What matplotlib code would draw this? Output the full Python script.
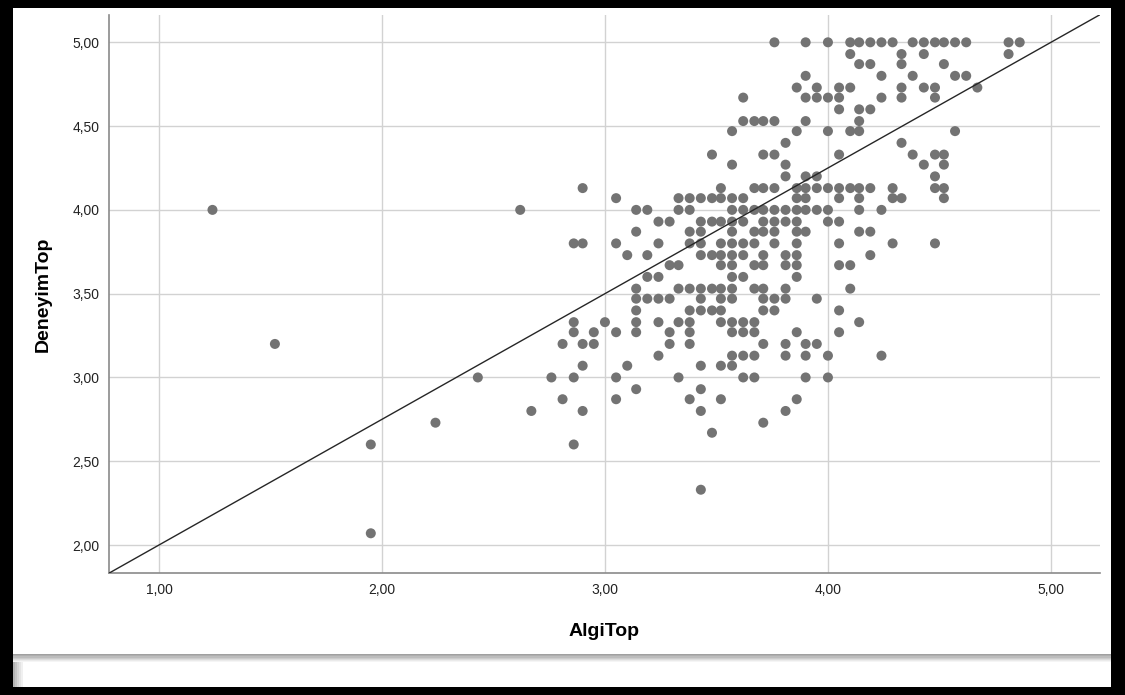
import matplotlib
matplotlib.use("Agg")
import matplotlib.pyplot as plt
from matplotlib.patches import Rectangle
from matplotlib.ticker import FuncFormatter

# --- DATA: DeneyimTop levels and the AlgiTop values at each level ---
deneyim_levels = [5.00, 4.93, 4.87, 4.80, 4.73, 4.67, 4.60, 4.53, 4.47, 4.40,
                  4.33, 4.27, 4.20, 4.13, 4.07, 4.00, 3.93, 3.87, 3.80, 3.73,
                  3.67, 3.60, 3.53, 3.47, 3.40, 3.33, 3.27, 3.20, 3.13, 3.07,
                  3.00, 2.93, 2.87, 2.80, 2.73, 2.67, 2.60, 2.33, 2.07]

algi_by_level = [
    [3.76, 3.90, 4.00, 4.10, 4.14, 4.19, 4.24, 4.29, 4.38, 4.43, 4.48, 4.52, 4.57, 4.62, 4.81, 4.86],
    [4.10, 4.33, 4.43, 4.81],
    [4.14, 4.19, 4.33, 4.52],
    [3.90, 4.24, 4.38, 4.57, 4.62],
    [3.86, 3.95, 4.05, 4.10, 4.33, 4.43, 4.48, 4.67],
    [3.62, 3.90, 3.95, 4.00, 4.05, 4.24, 4.33, 4.48],
    [4.05, 4.14, 4.19],
    [3.62, 3.67, 3.71, 3.76, 3.90, 4.14],
    [3.57, 3.86, 4.00, 4.10, 4.14, 4.57],
    [3.81, 4.33],
    [3.48, 3.71, 3.76, 4.05, 4.38, 4.48, 4.52],
    [3.57, 3.81, 4.43, 4.52],
    [3.81, 3.90, 3.95, 4.48],
    [2.90, 3.52, 3.67, 3.71, 3.76, 3.86, 3.90, 3.95, 4.00, 4.05, 4.10, 4.14, 4.19, 4.29, 4.48, 4.52],
    [3.05, 3.33, 3.38, 3.43, 3.48, 3.52, 3.57, 3.62, 3.86, 3.90, 4.05, 4.14, 4.29, 4.33, 4.52],
    [1.24, 2.62, 3.14, 3.19, 3.33, 3.38, 3.57, 3.62, 3.67, 3.71, 3.76, 3.81, 3.86, 3.90, 3.95, 4.00, 4.14, 4.24],
    [3.24, 3.29, 3.43, 3.48, 3.52, 3.57, 3.62, 3.71, 3.76, 3.81, 3.86, 4.00, 4.05],
    [3.14, 3.38, 3.43, 3.57, 3.67, 3.71, 3.76, 3.86, 3.90, 4.14, 4.19],
    [2.86, 2.90, 3.05, 3.24, 3.38, 3.43, 3.52, 3.57, 3.62, 3.67, 3.76, 3.86, 4.05, 4.29, 4.48],
    [3.10, 3.19, 3.43, 3.48, 3.52, 3.57, 3.62, 3.71, 3.81, 3.86, 4.19],
    [3.29, 3.33, 3.52, 3.57, 3.67, 3.71, 3.81, 3.86, 4.05, 4.10],
    [3.19, 3.24, 3.57, 3.62, 3.86],
    [3.14, 3.33, 3.38, 3.43, 3.48, 3.52, 3.57, 3.67, 3.71, 3.81, 4.10],
    [3.14, 3.19, 3.24, 3.29, 3.43, 3.52, 3.57, 3.71, 3.76, 3.81, 3.95],
    [3.14, 3.38, 3.43, 3.48, 3.52, 3.71, 3.76, 4.05],
    [2.86, 3.00, 3.14, 3.24, 3.33, 3.38, 3.52, 3.57, 3.62, 3.67, 4.14],
    [2.86, 2.95, 3.05, 3.14, 3.29, 3.38, 3.57, 3.62, 3.67, 3.86, 4.05],
    [1.52, 2.81, 2.90, 2.95, 3.29, 3.38, 3.71, 3.81, 3.90, 3.95],
    [3.24, 3.57, 3.62, 3.67, 3.81, 3.90, 4.00, 4.24],
    [2.90, 3.10, 3.43, 3.52, 3.57],
    [2.43, 2.76, 2.86, 3.05, 3.33, 3.62, 3.67, 3.90, 4.00],
    [3.14, 3.43],
    [2.81, 3.05, 3.38, 3.52, 3.86],
    [2.67, 2.90, 3.43, 3.81],
    [2.24, 3.71],
    [3.48],
    [1.95, 2.86],
    [3.43],
    [1.95],
]

fit_intercept = 1.25
fit_slope = 0.75

x_ticks = [1, 2, 3, 4, 5]
y_ticks = [2.0, 2.5, 3.0, 3.5, 4.0, 4.5, 5.0]

algi = []
deneyim = []
for lvl, xs in zip(deneyim_levels, algi_by_level):
    for v in xs:
        algi.append(v)
        deneyim.append(lvl)

# --- FIGURE ---
W, H = 1125, 695
fig = plt.figure(figsize=(W / 100, H / 100), dpi=100)
fig.patch.set_facecolor("black")


def px_rect(x0, y0, x1, y1, color, z=-10):
    r = Rectangle((x0 / W, 1 - y1 / H), (x1 - x0) / W, (y1 - y0) / H,
                  transform=fig.transFigure, facecolor=color,
                  edgecolor="none", zorder=z)
    fig.add_artist(r)


# white output panel, with a soft grey shadow under it
px_rect(13, 8, 1111, 687, "white")
band = ["#a0a0a0", "#aeaeae", "#bdbdbd", "#cccccc", "#dcdcdc", "#eaeaea", "#f5f5f5"]
for i, c in enumerate(band):
    px_rect(13, 654 + i * 1.2, 1111, 655.2 + i * 1.2, c, -9)
side = ["#b4b4b4", "#c6c6c6", "#d6d6d6", "#e4e4e4", "#f0f0f0"]
for i, c in enumerate(side):
    px_rect(13 + i * 2, 662, 15 + i * 2, 687, c, -9)

ax = fig.add_axes([109 / W, 1 - 573 / H, (1100 - 109) / W, (573 - 15) / H])
ax.set_facecolor("white")

ax.scatter(algi, deneyim, s=52, color="#737373", edgecolors="none", zorder=3)
ax.axline((0, fit_intercept), slope=fit_slope, color="#262626", lw=1.0, zorder=4)

ax.set_xlim(0.776, 5.22)
ax.set_ylim(1.833, 5.163)
ax.set_xticks(x_ticks)
ax.set_yticks(y_ticks)
fmt = FuncFormatter(lambda v, p: f"{v:.2f}".replace(".", ","))
ax.xaxis.set_major_formatter(fmt)
ax.yaxis.set_major_formatter(fmt)

ax.grid(True, color="#d2d2d2", lw=1.0, zorder=0)
ax.set_axisbelow(True)
for s in ["top", "right"]:
    ax.spines[s].set_visible(False)
for s in ["left", "bottom"]:
    ax.spines[s].set_color("#8a8a8a")
    ax.spines[s].set_linewidth(1.2)

ax.tick_params(axis="both", length=0, labelsize=10, colors="#222222")
ax.tick_params(axis="x", pad=7)
ax.tick_params(axis="y", pad=7)
for lab in ax.get_xticklabels() + ax.get_yticklabels():
    lab.set_family("Liberation Sans")

ax.set_xlabel("AlgiTop", fontsize=14, fontweight="bold", family="Liberation Sans")
ax.set_ylabel("DeneyimTop", fontsize=14, fontweight="bold", family="Liberation Sans")
ax.xaxis.set_label_coords(0.5, -0.09)
ax.yaxis.set_label_coords(-0.058, 0.5)

fig.savefig("out.png", dpi=100, facecolor=fig.get_facecolor())
